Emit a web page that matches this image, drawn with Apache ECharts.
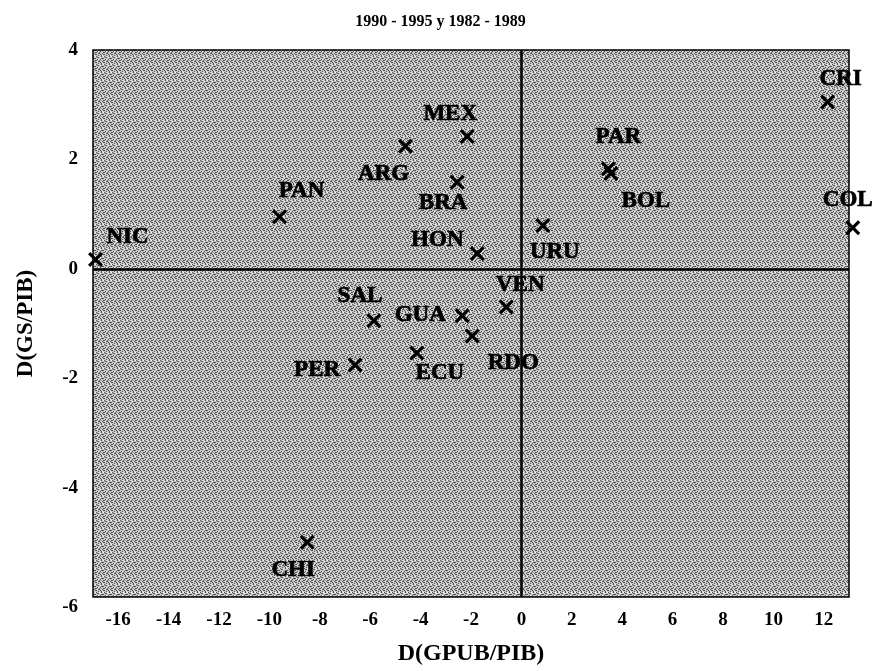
<!DOCTYPE html>
<html>
<head>
<meta charset="utf-8">
<script src="https://cdn.jsdelivr.net/npm/echarts@6/dist/echarts.min.js"></script>
<style>
  html, body { margin: 0; padding: 0; background: #fff; }
  #chart { width: 881px; height: 671px; }
</style>
</head>
<body>
<div id="chart"></div>
<script>
// country codes and their changes (x: D(GPUB/PIB), y: D(GS/PIB))
const countries = ['NIC', 'PAN', 'ARG', 'MEX', 'BRA', 'HON', 'URU', 'PAR', 'BOL', 'CRI',
                   'COL', 'SAL', 'GUA', 'RDO', 'VEN', 'ECU', 'PER', 'CHI'];
const xValues = [-16.9, -9.6, -4.6, -2.15, -2.55, -1.75, 0.85, 3.45, 3.55, 12.15,
                 13.15, -5.85, -2.35, -1.95, -0.6, -4.15, -6.6, -8.5];
const yValues = [0.17, 0.95, 2.24, 2.42, 1.58, 0.28, 0.79, 1.83, 1.74, 3.05,
                 0.75, -0.95, -0.86, -1.23, -0.7, -1.54, -1.76, -5.0];
const xTicks = [-16, -14, -12, -10, -8, -6, -4, -2, 0, 2, 4, 6, 8, 10, 12];
const yTicks = [-6, -4, -2, 0, 2, 4];

const FONT = '"Liberation Serif", "DejaVu Serif", serif';

// where each label sits relative to its cross (pixels)
const labelOffset = {
  NIC: [32, -22], PAN: [22, -26], ARG: [-22, 28], MEX: [-17, -22], BRA: [-14, 21],
  HON: [-40, -13], URU: [12, 26], PAR: [10, -32], BOL: [35, 27], CRI: [13, -23],
  COL: [-5, -28], SAL: [-14, -25], GUA: [-42, -1], RDO: [41, 27], VEN: [14, -22],
  ECU: [23, 20], PER: [-38, 5], CHI: [-14, 28]
};

// grainy grey fill for the plot area
function makeTexture() {
  const c = document.createElement('canvas');
  c.width = 8; c.height = 8;
  const ctx = c.getContext('2d');
  ctx.fillStyle = '#c6c6c6';
  ctx.fillRect(0, 0, 8, 8);
  const dark = [[0,0],[2,1],[5,0],[7,2],[1,3],[4,3],[6,5],[3,5],[0,6],[5,7],[2,7],[7,6],
                [1,1],[6,2],[3,4],[4,6],[0,4],[7,4],[2,5],[5,2]];
  ctx.fillStyle = '#555';
  for (const [px, py] of dark) ctx.fillRect(px, py, 1, 1);
  ctx.fillStyle = '#f2f2f2';
  for (const [px, py] of [[3,0],[6,7],[1,5],[4,1],[7,0],[2,3]]) ctx.fillRect(px, py, 1, 1);
  return c;
}

const points = countries.map((name, i) => ({
  name: name,
  value: [xValues[i], yValues[i]],
  label: { offset: labelOffset[name] }
}));

const crossPath = 'path://M0,3L3,0L10,7L17,0L20,3L13,10L20,17L17,20L10,13L3,20L0,17L7,10Z';
const tickFont = { fontFamily: FONT, fontWeight: 'bold', fontSize: 19, color: '#000' };

const chart = echarts.init(document.getElementById('chart'));
chart.setOption({
  animation: false,
  backgroundColor: '#fff',
  title: {
    text: '1990 - 1995 y 1982 - 1989',
    left: 'center',
    top: 9,
    textStyle: { fontFamily: FONT, fontWeight: 'bold', fontSize: 16, color: '#000' }
  },
  grid: {
    left: 93, right: 32, top: 50, bottom: 74,
    show: true,
    backgroundColor: { image: makeTexture(), repeat: 'repeat' },
    borderColor: '#000',
    borderWidth: 1.5
  },
  xAxis: {
    type: 'value',
    min: -17, max: 13, interval: 1,
    name: 'D(GPUB/PIB)',
    nameLocation: 'middle',
    nameGap: 45,
    nameTextStyle: { fontFamily: FONT, fontWeight: 'bold', fontSize: 24, color: '#000' },
    axisLine: { show: false },
    axisTick: { show: false },
    splitLine: { show: false },
    axisLabel: Object.assign({
      margin: 14,
      interval: 0,
      formatter: v => xTicks.includes(v) ? String(v) : ''
    }, tickFont)
  },
  yAxis: {
    type: 'value',
    min: -6, max: 4, interval: 2,
    name: 'D(GS/PIB)',
    nameLocation: 'middle',
    nameGap: 55,
    nameTextStyle: { fontFamily: FONT, fontWeight: 'bold', fontSize: 23, color: '#000' },
    axisLine: { show: false },
    axisTick: { show: false },
    splitLine: { show: false },
    axisLabel: Object.assign({
      margin: 15,
      formatter: v => !yTicks.includes(v) ? '' : (v === -6 ? '{low|-6}' : String(v)),
      rich: { low: Object.assign({ padding: [20, 0, 0, 0] }, tickFont) }
    }, tickFont)
  },
  series: [{
    type: 'scatter',
    data: points,
    clip: false,
    symbol: crossPath,
    symbolSize: 15,
    itemStyle: { color: '#000', opacity: 1 },
    label: {
      show: true,
      position: 'inside',
      formatter: p => p.name,
      fontFamily: FONT, fontWeight: 'bold', fontSize: 23, color: '#000',
      textBorderColor: '#000', textBorderWidth: 0.7
    },
    markLine: {
      silent: true,
      symbol: 'none',
      label: { show: false },
      lineStyle: { color: '#000', width: 2.5, type: 'solid' },
      data: [{ xAxis: 0 }, { yAxis: 0 }]
    },
    z: 3
  }]
});
</script>
</body>
</html>
